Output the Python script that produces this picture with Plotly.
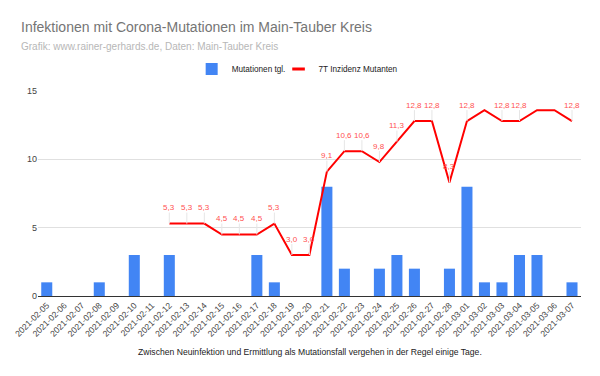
import plotly.graph_objects as go

dates = ["2021-02-05","2021-02-06","2021-02-07","2021-02-08","2021-02-09","2021-02-10",
         "2021-02-11","2021-02-12","2021-02-13","2021-02-14","2021-02-15","2021-02-16",
         "2021-02-17","2021-02-18","2021-02-19","2021-02-20","2021-02-21","2021-02-22",
         "2021-02-23","2021-02-24","2021-02-25","2021-02-26","2021-02-27","2021-02-28",
         "2021-03-01","2021-03-02","2021-03-03","2021-03-04","2021-03-05","2021-03-06",
         "2021-03-07"]
mutationen = [1,0,0,1,0,3,0,3,0,0,0,0,3,1,0,0,8,2,0,2,3,2,0,2,8,1,1,3,3,0,1]
inzidenz = [None,None,None,None,None,None,None,5.3,5.3,5.3,4.5,4.5,4.5,5.3,3.0,3.0,
            9.1,10.6,10.6,9.8,11.3,12.8,12.8,8.3,12.8,13.6,12.8,12.8,13.6,13.6,12.8]
label_shown = [False]*7 + [True]*18 + [False, True, True, False, False, True]

FONT = "Liberation Sans, Arial, sans-serif"
BLUE = "#4285f4"
RED = "#ff0000"

fig = go.Figure()
fig.add_trace(go.Bar(x=dates, y=mutationen, name="Mutationen tgl.",
                     marker=dict(color=BLUE, line=dict(width=0)), width=0.63,
                     legend="legend"))
fig.add_trace(go.Scatter(x=dates, y=inzidenz, name="7T Inzidenz Mutanten", mode="lines",
                         line=dict(color=RED, width=2), showlegend=False))
# legend entry with a short red dash like the original
fig.add_trace(go.Scatter(x=[None], y=[None], name="7T Inzidenz Mutanten", mode="markers",
                         marker=dict(symbol="line-ew-open", size=9, color=RED,
                                     line=dict(color=RED, width=3)),
                         showlegend=True, hoverinfo="skip", legend="legend2"))

annotations = []
for d, v, s in zip(dates, inzidenz, label_shown):
    if v is None or not s:
        continue
    annotations.append(dict(x=d, y=v, xref="x", yref="y",
                            text=f"{v:.1f}".replace(".", ","),
                            showarrow=True, arrowhead=0, arrowwidth=1, arrowcolor="#e6e6e6",
                            ax=0, ay=-16, standoff=0, startstandoff=0,
                            font=dict(family=FONT, size=8, color="#ff5050"),
                            bgcolor="rgba(0,0,0,0)", borderpad=0))

annotations += [
    dict(text="Infektionen mit Corona-Mutationen im Main-Tauber Kreis", xref="paper", yref="paper",
         x=-0.0344, y=1.312, xanchor="left", yanchor="middle", showarrow=False,
         font=dict(family=FONT, size=14, color="#757575")),
    dict(text="Grafik: www.rainer-gerhards.de, Daten: Main-Tauber Kreis", xref="paper", yref="paper",
         x=-0.0344, y=1.215, xanchor="left", yanchor="middle", showarrow=False,
         font=dict(family=FONT, size=10, color="#b7b7b7")),
    dict(text="Zwischen Neuinfektion und Ermittlung als Mutationsfall vergehen in der Regel einige Tage.",
         xref="paper", yref="paper", x=0.5, y=-0.273, xanchor="center", yanchor="middle",
         showarrow=False, font=dict(family=FONT, size=8.6, color="#222222")),
]

legend_common = dict(orientation="h", y=1.107, xanchor="left", yanchor="middle",
                     font=dict(family=FONT, size=8.2, color="#222222"),
                     bgcolor="rgba(0,0,0,0)")

fig.update_layout(
    width=592, height=368,
    margin=dict(l=29.7, r=19, t=83, b=80, autoexpand=False),
    paper_bgcolor="white", plot_bgcolor="white",
    font=dict(family=FONT, size=9, color="#444444"),
    showlegend=True,
    legend=dict(x=0.283, **legend_common),
    legend2=dict(x=0.443, **legend_common),
    bargap=0.37,
    annotations=annotations,
    xaxis=dict(type="category", tickangle=-45, showgrid=False, showline=True,
               linecolor="#333333", linewidth=1, ticks="", automargin=False,
               tickfont=dict(family=FONT, size=8.6, color="#444444")),
    yaxis=dict(range=[0, 15], tickvals=[0, 5, 10, 15], showgrid=True, gridcolor="#e0e0e0",
               zeroline=False, showline=False, ticks="", automargin=False,
               tickfont=dict(family=FONT, size=9, color="#444444")),
)

fig.write_html("out.html")
